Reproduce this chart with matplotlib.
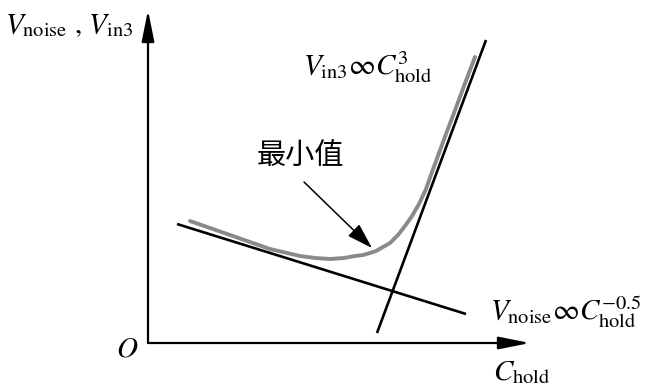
import matplotlib
matplotlib.use('Agg')
import matplotlib.pyplot as plt

plt.rcParams['mathtext.fontset'] = 'stix'
plt.rcParams['font.family'] = ['STIXGeneral', 'DejaVu Serif']

# ---- 示意图数据 (单位: 原点为坐标轴交点的像素) ----
AXIS_X_END = 382
AXIS_Y_END = 333

# V_noise ∝ C_hold^-0.5 渐近线
noise_x = [29, 318]
noise_y = [119, 29]

# V_in3 ∝ C_hold^3 渐近线
in3_x = [229, 338]
in3_y = [10, 303]

# 总噪声曲线 (灰色)
curve_x = [42, 82, 122, 152, 167, 182, 196, 207, 215, 222, 228, 235, 242,
           250, 257, 264, 271, 278, 284, 291, 298, 306, 316, 327]
curve_y = [122, 108, 94, 87, 85, 84, 85, 87, 88, 90, 92, 96, 100,
           108, 117, 127, 139, 154, 171, 190, 209, 230, 257, 286]

# 最小值标注
min_text = '最小值'
min_text_xy = (152, 187)
min_arrow_from = (156, 161)
min_arrow_to = (224, 95)

fig = plt.figure(figsize=(6.47, 3.92), dpi=100)
ax = fig.add_axes([148 / 647, 49 / 392, 499 / 647, 343 / 392])
ax.set_xlim(0, 499)
ax.set_ylim(0, 343)
ax.axis('off')

# 坐标轴 (带箭头)
arrow_kw = dict(arrowstyle='-|>,head_length=1.0,head_width=0.2',
                mutation_scale=19, lw=1.6, color='black',
                shrinkA=0, shrinkB=0)
ax.annotate('', xy=(AXIS_X_END, 0), xytext=(0, 0), arrowprops=arrow_kw,
            annotation_clip=False)
ax.annotate('', xy=(0, AXIS_Y_END), xytext=(0, 0), arrowprops=arrow_kw,
            annotation_clip=False)

ax.plot(noise_x, noise_y, color='black', lw=1.9, solid_capstyle='butt')
ax.plot(in3_x, in3_y, color='black', lw=1.9, solid_capstyle='butt')
ax.plot(curve_x, curve_y, color='#8a8a8a', lw=2.8, solid_capstyle='round',
        solid_joinstyle='round')

# 最小值箭头
ax.annotate('', xy=min_arrow_to, xytext=min_arrow_from,
            arrowprops=dict(arrowstyle='-|>,head_length=0.8,head_width=0.25',
                            mutation_scale=20, lw=1.1, color='black',
                            shrinkA=0, shrinkB=0))
ax.text(*min_text_xy, min_text, fontsize=21, ha='center', va='center',
        family=['Noto Sans CJK SC', 'DejaVu Sans'])

# 文字标注
fs = 21
ax.text(-143, 310, r'$V_{\rm noise}$ , $V_{\rm in3}$', fontsize=fs,
        ha='left', va='baseline', clip_on=False)
ax.text(155, 268, r'$V_{\rm in3}\infty C_{\rm hold}^{3}$', fontsize=fs,
        ha='left', va='baseline', clip_on=False)
ax.text(342, 23, r'$V_{\rm noise}\infty C_{\rm hold}^{-0.5}$', fontsize=fs,
        ha='left', va='baseline', clip_on=False)
ax.text(345, -37, r'$C_{\rm hold}$', fontsize=fs,
        ha='left', va='baseline', clip_on=False)
ax.text(-21, -7, r'$O$', fontsize=fs, ha='center', va='center',
        clip_on=False)

fig.savefig('out.png', dpi=100)
